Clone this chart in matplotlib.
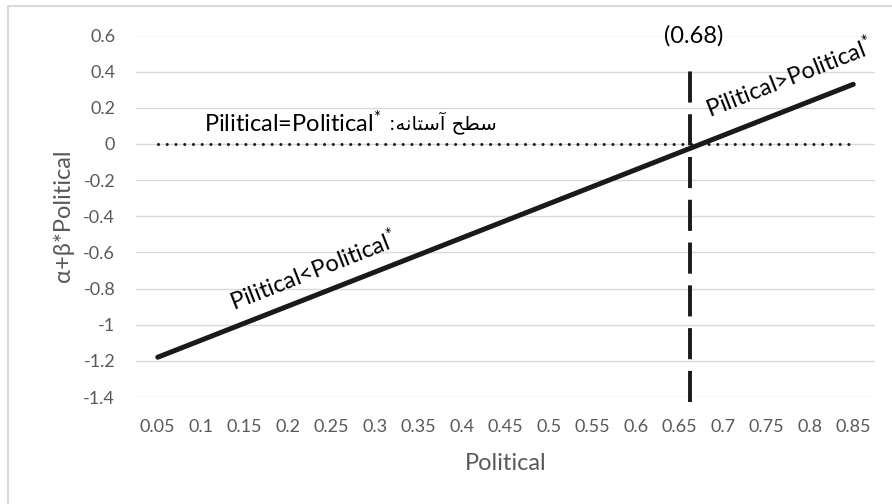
import numpy as np
import matplotlib
matplotlib.use('Agg')
import matplotlib.pyplot as plt
from matplotlib.patches import Rectangle

plt.rcParams['font.family'] = ['Lato', 'DejaVu Sans']
plt.rcParams['mathtext.fontset'] = 'custom'
plt.rcParams['mathtext.rm'] = 'Lato'
plt.rcParams['mathtext.it'] = 'Lato'

# data
political = [0.05, 0.85]
fitted = [-1.18, 0.33]
threshold_x = 0.662
threshold_label = '(0.68)'
dash_y = [-1.43, 0.45]
x_ticks = [0.05, 0.1, 0.15, 0.2, 0.25, 0.3, 0.35, 0.4, 0.45, 0.5, 0.55,
           0.6, 0.65, 0.7, 0.75, 0.8, 0.85]
y_ticks = [0.6, 0.4, 0.2, 0, -0.2, -0.4, -0.6, -0.8, -1, -1.2, -1.4]

grey = '#595959'
ink = '#1a1a1a'

fig = plt.figure(figsize=(8.92, 5.04), dpi=100)
ax = fig.add_axes([136/892, 1-397/504, (875-136)/892, (397-35.5)/504])

ax.set_xlim(0.025, 0.875)
ax.set_ylim(-1.4, 0.6)
for s in ax.spines.values():
    s.set_visible(False)

ax.set_yticks(y_ticks)
ax.set_yticklabels([('%g' % v) for v in y_ticks])
ax.set_xticks(x_ticks)
ax.set_xticklabels([('%g' % v) for v in x_ticks])
ax.tick_params(length=0, colors=grey, labelsize=13)
ax.tick_params(axis='y', pad=15)
ax.tick_params(axis='x', pad=16)
ax.grid(axis='y', color='#d9d9d9', lw=1.0)
ax.set_axisbelow(True)

ax.set_xlabel('Political', color=grey, fontsize=17, labelpad=13)
ax.set_ylabel('α+β*Political', color=grey, fontsize=17, labelpad=7)

# threshold (dotted) at zero
ax.plot(political, [0, 0], color=ink, lw=2.2, linestyle=(0, (0.01, 2.85)),
        dash_capstyle='round')
# fitted line
ax.plot(political, fitted, color=ink, lw=3.6, solid_capstyle='round')
# vertical dashed line
ax.plot([threshold_x, threshold_x], dash_y, color=ink, lw=2.8,
        linestyle=(0, (8, 3)), clip_on=False)

ax.text(threshold_x + 0.004, 0.6, threshold_label, fontsize=17, color='black',
        ha='center', va='center')
ax.text(0.1028, 0.118, r'Pilitical=Political$^{*}$', fontsize=17,
        color='black', ha='left', va='center')
# Persian: "سطح آستانه:" shaped and laid out for left-to-right drawing
persian = ':' + '\ufeea\ufee7\ufe8e\ufe98\ufeb3\ufe81' + ' ' + '\ufea2\ufec4\ufeb3'
ax.text(0.44, 0.118, persian, fontsize=14, color='black', ha='right',
        va='center', family=['DejaVu Sans'])

ax.text(0.229, -0.70, r'Pilitical<Political$^{*}$', fontsize=17,
        color='black', ha='center', va='center', rotation=21.4,
        rotation_mode='anchor')
ax.text(0.776, 0.37, r'Pilitical>Political$^{*}$', fontsize=17,
        color='black', ha='center', va='center', rotation=21.4,
        rotation_mode='anchor')

fig.patches.append(Rectangle((8/892, -0.1), 1.1, 1 - 6/504 + 0.1,
                             transform=fig.transFigure, fill=False,
                             edgecolor='#d9d9d9', lw=1.5))

fig.savefig('out.png', dpi=100)
